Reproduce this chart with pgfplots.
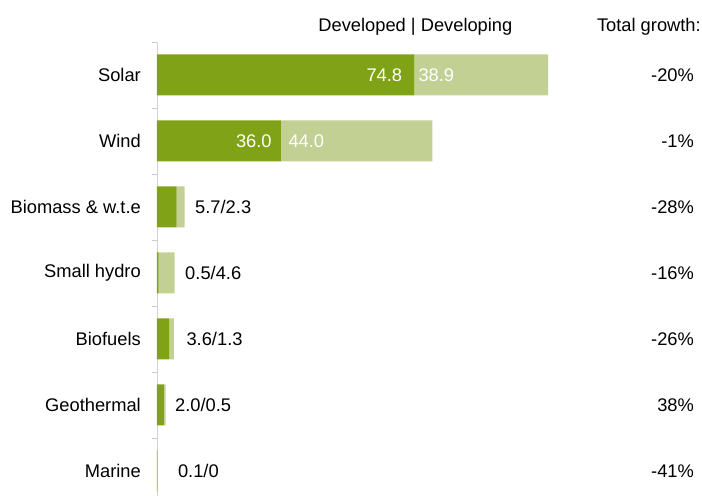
\documentclass[border=0pt]{standalone}
\usepackage{pgfplots}
\pgfplotsset{compat=1.18}
\usepackage{fontspec}
\setmainfont{Liberation Sans}
\definecolor{devd}{RGB}{128,162,22}
\definecolor{devg}{RGB}{195,208,148}
\begin{document}
\begin{tikzpicture}[font=\fontsize{18.3}{21}\selectfont]
\begin{axis}[
    at={(0pt,0pt)}, anchor=south west,
    scale only axis, width=545pt, height=454pt,
    xbar stacked, bar width=41pt,
    xmin=0, xmax=158.4,
    ymin=-0.5, ymax=6.38, y dir=reverse,
    enlargelimits=false,
    axis x line=none, axis y line*=left,
    y axis line style={draw=gray!35, line width=0.8pt},
    ytick={0,...,6},
    yticklabels={Solar,Wind,Biomass \& w.t.e,Small hydro,Biofuels,Geothermal,Marine},
    minor ytick={-0.5,0.5,1.5,2.5,3.5,4.5,5.5},
    major tick length=0pt, minor tick length=5pt, tick align=outside,
    minor tick style={draw=gray!40, line width=0.8pt},
    yticklabel style={inner sep=0pt, xshift=-16pt},
    clip=false,
]
\addplot[fill=devd, draw=none] coordinates {(74.8,0) (36.0,1) (5.7,2) (0.5,3) (3.6,4) (2.0,5) (0.1,6)};
\addplot[fill=devg, draw=none] coordinates {(38.9,0) (44.0,1) (2.3,2) (4.6,3) (1.3,4) (0.5,5) (0,6)};

% split points of the two big bars, labelled after the axis
\coordinate (solarsplit) at (axis cs:74.8,0);
\coordinate (windsplit) at (axis cs:36.0,1);

% labels beside the small bars
\node[anchor=west, inner sep=0pt, xshift=10.5pt] at (axis cs:8.0,2) {5.7/2.3};
\node[anchor=west, inner sep=0pt, xshift=10.5pt] at (axis cs:5.1,3) {0.5/4.6};
\node[anchor=west, inner sep=0pt, xshift=12.5pt] at (axis cs:4.9,4) {3.6/1.3};
\node[anchor=west, inner sep=0pt, xshift=9.4pt] at (axis cs:2.5,5) {2.0/0.5};
\node[anchor=west, inner sep=0pt, xshift=20.5pt] at (axis cs:0.1,6) {0.1/0};

% total growth column
\node[anchor=east, inner sep=0pt] at (axis cs:156.1,0) {-20\%};
\node[anchor=east, inner sep=0pt] at (axis cs:156.1,1) {-1\%};
\node[anchor=east, inner sep=0pt] at (axis cs:156.1,2) {-28\%};
\node[anchor=east, inner sep=0pt] at (axis cs:156.1,3) {-16\%};
\node[anchor=east, inner sep=0pt] at (axis cs:156.1,4) {-26\%};
\node[anchor=east, inner sep=0pt] at (axis cs:156.1,5) {38\%};
\node[anchor=east, inner sep=0pt] at (axis cs:156.1,6) {-41\%};

% headers
\node[anchor=base, inner sep=0pt] at (axis cs:75.1,-0.652) {Developed | Developing};
\node[anchor=base east, inner sep=0pt] at (axis cs:158.1,-0.652) {Total growth:};
\end{axis}
\node[anchor=east, inner sep=0pt, text=white, xshift=-12pt] at (solarsplit) {74.8};
\node[anchor=west, inner sep=0pt, text=white, xshift=4pt] at (solarsplit) {38.9};
\node[anchor=east, inner sep=0pt, text=white, xshift=-9pt] at (windsplit) {36.0};
\node[anchor=west, inner sep=0pt, text=white, xshift=7.5pt] at (windsplit) {44.0};
\pgfresetboundingbox
\path (-157pt,0pt) rectangle (545pt,496pt);
\end{tikzpicture}
\end{document}
